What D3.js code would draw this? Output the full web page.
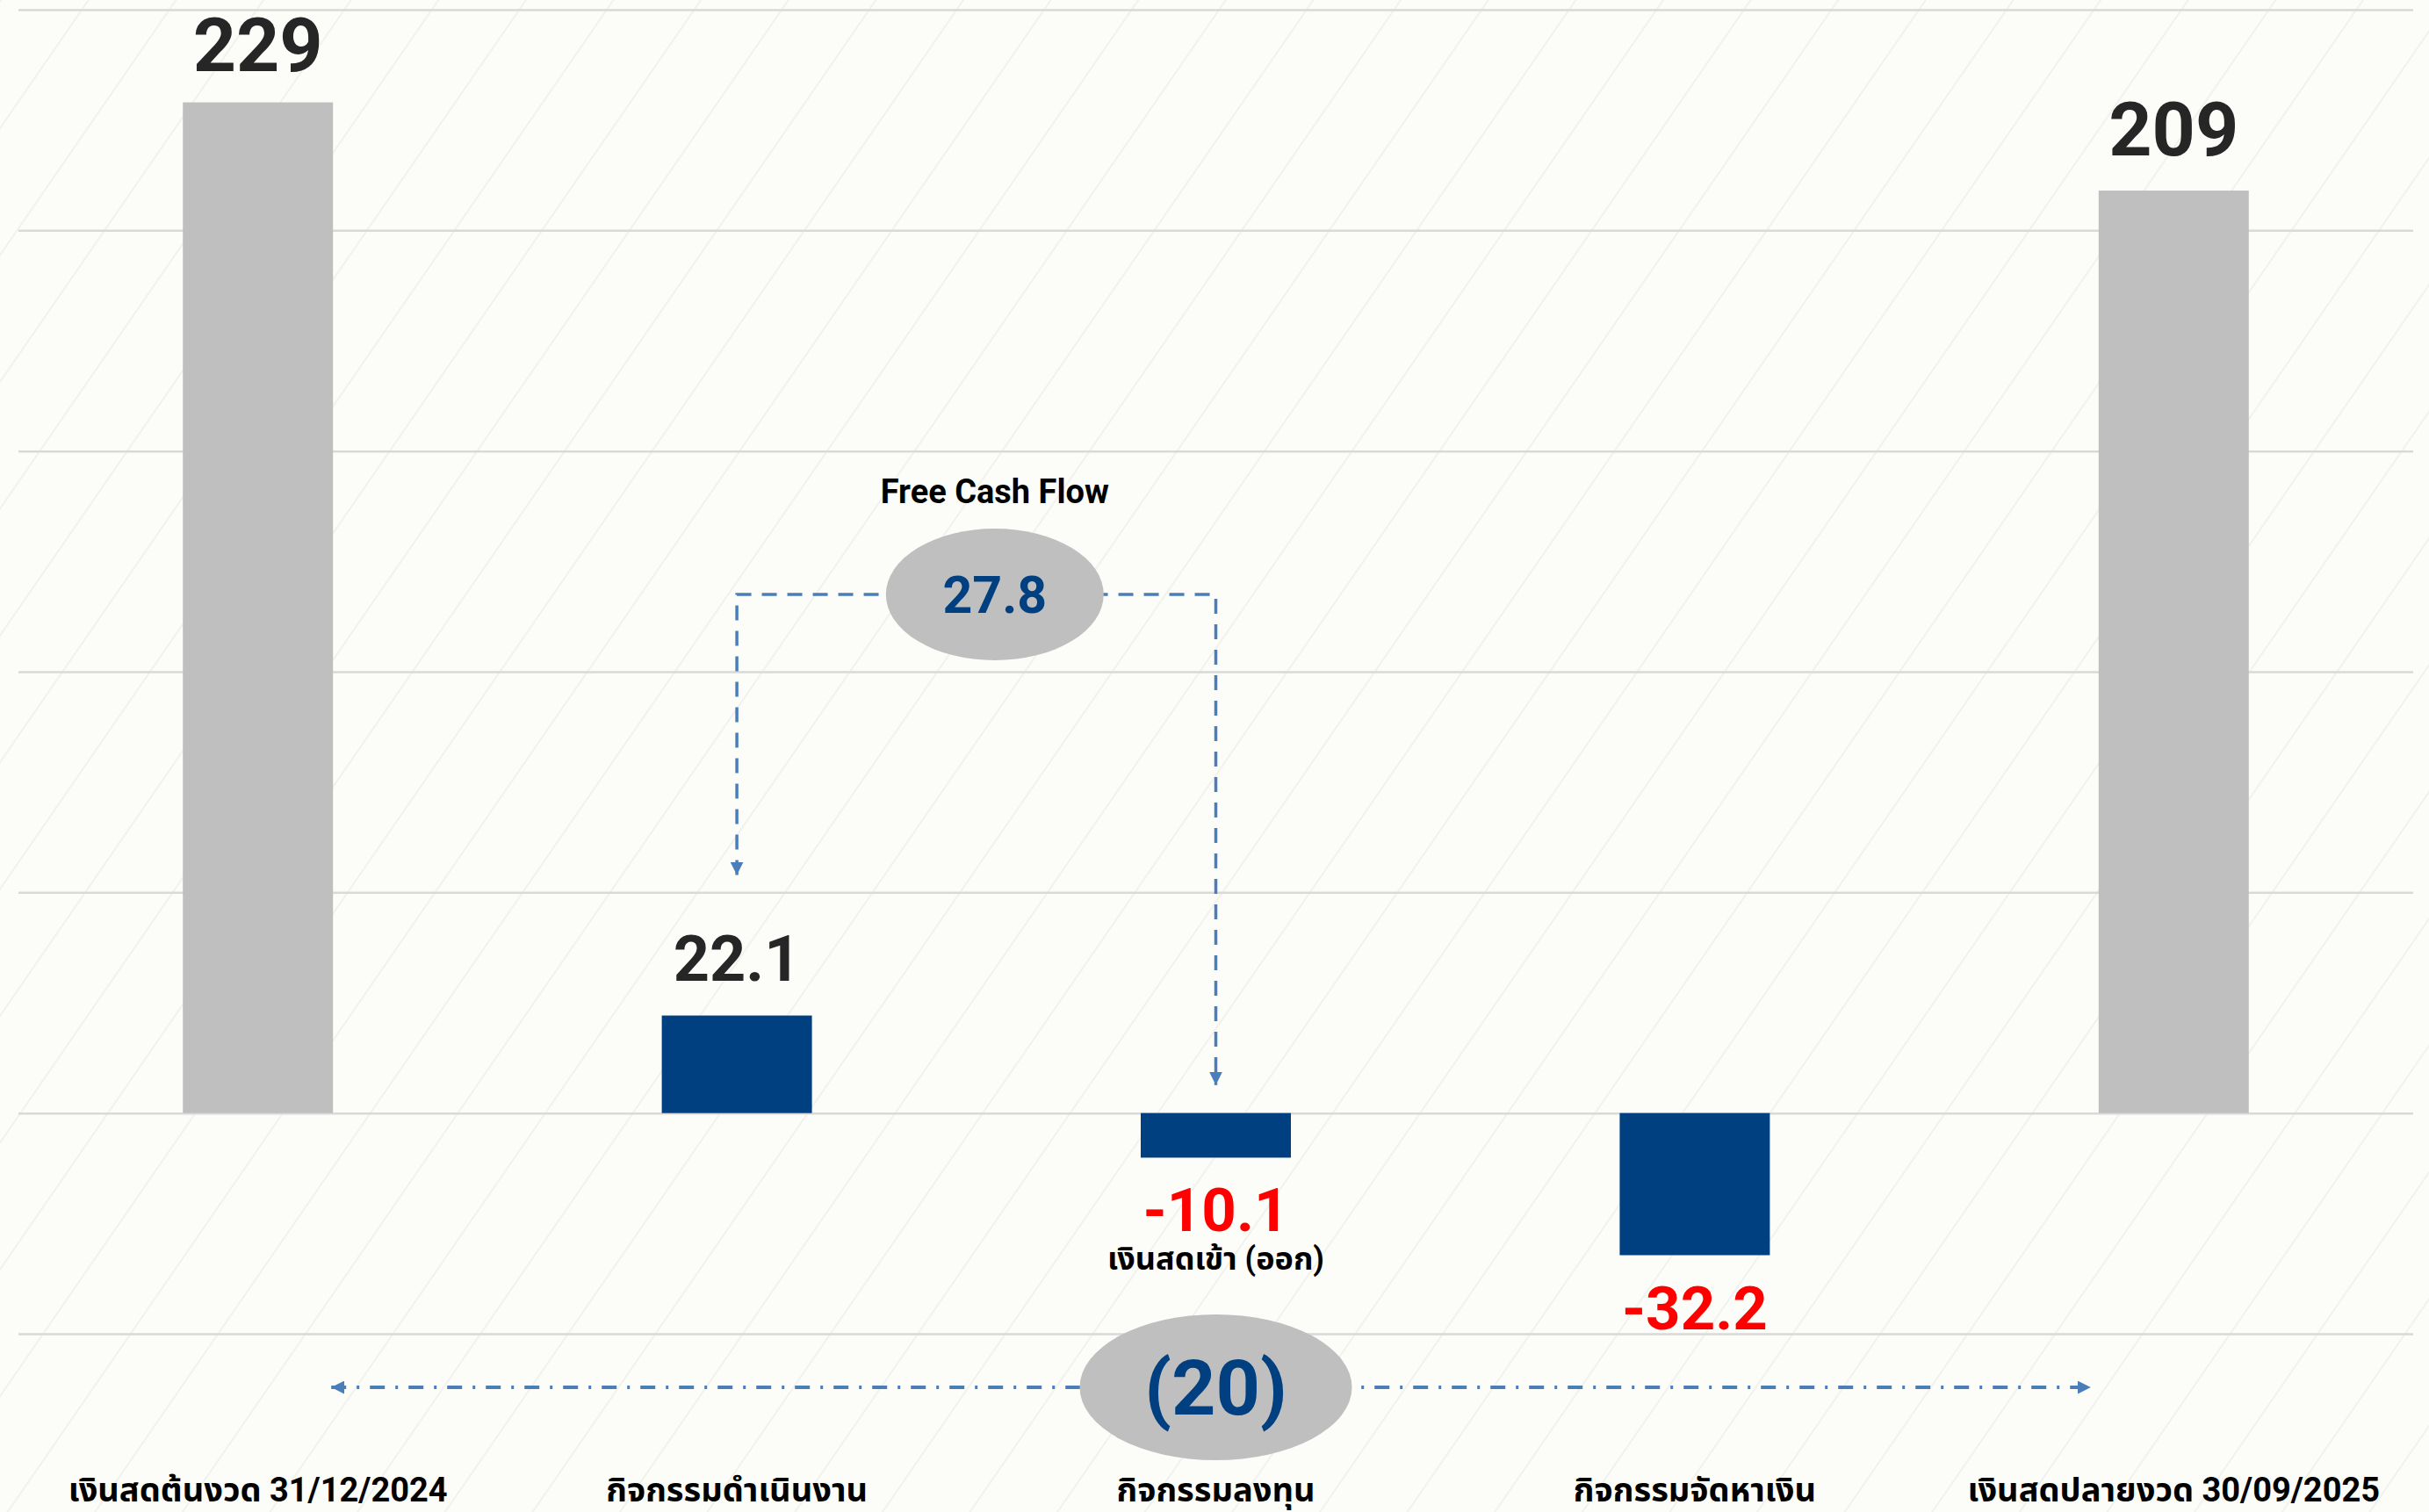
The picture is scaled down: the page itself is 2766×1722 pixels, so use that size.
<!DOCTYPE html>
<html>
<head>
<meta charset="utf-8">
<script src="https://cdn.jsdelivr.net/npm/d3@7/dist/d3.min.js"></script>
<style>
  html, body { margin: 0; padding: 0; background: #fcfcf8; }
  svg { display: block; }
  text { font-family: Roboto, "Noto Sans Thai", "Noto Sans", sans-serif; font-weight: 700; }
</style>
</head>
<body>
<div id="chart"></div>
<script>
// Cash flow bars, million baht
var categories = ['เงินสดต้นงวด 31/12/2024', 'กิจกรรมดำเนินงาน', 'กิจกรรมลงทุน', 'กิจกรรมจัดหาเงิน', 'เงินสดปลายงวด 30/09/2025'];
var values = [229, 22.1, -10.1, -32.2, 209];
var valueLabels = ['229', '22.1', '-10.1', '-32.2', '209'];
var barKinds = ['balance', 'flow', 'flow', 'flow', 'balance'];
var yTicks = [-50, 0, 50, 100, 150, 200, 250];

// Annotations
var fcfTitle = 'Free Cash Flow';
var fcfValue = '27.8';
var fcfSpan = [categories[1], categories[2]];
var netValue = '(20)';
var netNote = 'เงินสดเข้า (ออก)';
var netSpan = [categories[0], categories[4]];

var opts = {
  width: 2766,
  height: 1722,
  plot: { left: 21, right: 2748, top: 11, bottom: 1519 },
  colors: {
    background: '#fcfcf8',
    stripe: '#f1f1ed',
    grid: '#d9d9d9',
    balance: '#bfbfbf',
    flow: '#003f80',
    text: '#262626',
    negative: '#ff0000',
    connector: '#4a7ebb',
    bubble: '#bfbfbf'
  }
};

var svg = d3.select('#chart')
  .append('svg')
    .attr('width', opts.width)
    .attr('height', opts.height);

var defs = svg.append('defs');

// Faint diagonal background stripes
defs.append('pattern')
    .attr('id', 'stripes')
    .attr('patternUnits', 'userSpaceOnUse')
    .attr('width', 82)
    .attr('height', 82)
    .attr('patternTransform', 'rotate(34.6)')
  .append('line')
    .attr('x1', 1).attr('y1', 0)
    .attr('x2', 1).attr('y2', 82)
    .attr('stroke', opts.colors.stripe)
    .attr('stroke-width', 2);

defs.append('marker')
    .attr('id', 'arrow')
    .attr('viewBox', '0 0 10 10')
    .attr('refX', 10)
    .attr('refY', 5)
    .attr('markerUnits', 'userSpaceOnUse')
    .attr('markerWidth', 15)
    .attr('markerHeight', 15)
    .attr('orient', 'auto-start-reverse')
  .append('path')
    .attr('d', 'M0,0L10,5L0,10Z')
    .attr('fill', opts.colors.connector);

svg.append('rect')
    .attr('width', opts.width)
    .attr('height', opts.height)
    .attr('fill', opts.colors.background);

svg.append('rect')
    .attr('width', opts.width)
    .attr('height', opts.height)
    .attr('fill', 'url(#stripes)');

var x = d3.scaleBand()
  .domain(categories)
  .range([opts.plot.left, opts.plot.right])
  .paddingInner(0.6865)
  .paddingOuter(0.6865 / 2);

var y = d3.scaleLinear()
  .domain([-50, 250])
  .range([opts.plot.bottom, opts.plot.top]);

var bw = x.bandwidth();
function cx(c) { return x(c) + bw / 2; }

// Gridlines
var grid = svg.append('g')
    .attr('transform', 'translate(' + opts.plot.left + ',0)')
    .call(d3.axisLeft(y)
      .tickValues(yTicks)
      .tickSize(-(opts.plot.right - opts.plot.left))
      .tickFormat(''));
grid.select('.domain').remove();
grid.selectAll('.tick line')
    .attr('stroke', opts.colors.grid)
    .attr('stroke-width', 2.5);

var data = categories.map(function(c, i) {
  return { cat: c, value: values[i], label: valueLabels[i], kind: barKinds[i] };
});

// Bars
svg.append('g').selectAll('rect')
  .data(data)
  .enter().append('rect')
    .attr('x', function(d) { return x(d.cat); })
    .attr('width', bw)
    .attr('y', function(d) { return y(Math.max(0, d.value)); })
    .attr('height', function(d) { return Math.abs(y(d.value) - y(0)); })
    .attr('fill', function(d) { return opts.colors[d.kind]; });

function labelSize(d) {
  if (d.kind === 'balance') return 86;
  return d.value >= 0 ? 72 : 69;
}

// Value labels (kept inside the top edge)
svg.append('g').selectAll('text')
  .data(data)
  .enter().append('text')
    .attr('x', function(d) { return cx(d.cat); })
    .attr('y', function(d) {
      if (d.value < 0) return y(d.value) + 84;
      return Math.max(y(d.value) - 40, labelSize(d) * 0.93 + 1);
    })
    .attr('text-anchor', 'middle')
    .attr('font-size', labelSize)
    .attr('fill', function(d) { return d.value >= 0 ? opts.colors.text : opts.colors.negative; })
    .text(function(d) { return d.label; });

// Category labels
svg.append('g').selectAll('text')
  .data(categories)
  .enter().append('text')
    .attr('x', function(d) { return cx(d); })
    .attr('y', 1710)
    .attr('text-anchor', 'middle')
    .attr('font-size', 38)
    .attr('fill', '#000')
    .text(function(d) { return d; });

// Free cash flow connector
var fcfLevel = y(117.5);
var fcfX = (cx(fcfSpan[0]) + cx(fcfSpan[1])) / 2 + 21;
svg.append('path')
    .attr('d', 'M' + cx(fcfSpan[0]) + ',' + (y(values[1]) - 160) +
               'V' + fcfLevel + 'H' + cx(fcfSpan[1]) + 'V' + (y(0) - 32))
    .attr('fill', 'none')
    .attr('stroke', opts.colors.connector)
    .attr('stroke-width', 3.5)
    .attr('stroke-dasharray', '17,12')
    .attr('marker-start', 'url(#arrow)')
    .attr('marker-end', 'url(#arrow)');

svg.append('ellipse')
    .attr('cx', fcfX)
    .attr('cy', fcfLevel)
    .attr('rx', 124)
    .attr('ry', 75)
    .attr('fill', opts.colors.bubble);

svg.append('text')
    .attr('x', fcfX)
    .attr('y', fcfLevel)
    .attr('dy', '0.35em')
    .attr('text-anchor', 'middle')
    .attr('font-size', 59)
    .attr('fill', opts.colors.flow)
    .text(fcfValue);

svg.append('text')
    .attr('x', fcfX)
    .attr('y', fcfLevel - 104)
    .attr('text-anchor', 'middle')
    .attr('font-size', 38)
    .attr('fill', '#000')
    .text(fcfTitle);

// Net change connector
var netLevel = opts.plot.bottom + 61;
var netX = cx(categories[2]);
svg.append('path')
    .attr('d', 'M' + (x(netSpan[0]) + bw - 2) + ',' + netLevel + 'H' + (x(netSpan[1]) - 9))
    .attr('fill', 'none')
    .attr('stroke', opts.colors.connector)
    .attr('stroke-width', 4)
    .attr('stroke-dasharray', '17,12,3,12')
    .attr('marker-start', 'url(#arrow)')
    .attr('marker-end', 'url(#arrow)');

svg.append('ellipse')
    .attr('cx', netX)
    .attr('cy', netLevel)
    .attr('rx', 155)
    .attr('ry', 83)
    .attr('fill', opts.colors.bubble);

svg.append('text')
    .attr('x', netX)
    .attr('y', netLevel)
    .attr('dy', '0.35em')
    .attr('text-anchor', 'middle')
    .attr('font-size', 88)
    .attr('fill', opts.colors.flow)
    .text(netValue);

svg.append('text')
    .attr('x', netX)
    .attr('y', y(values[2]) + 128)
    .attr('text-anchor', 'middle')
    .attr('font-size', 36)
    .attr('fill', '#000')
    .text(netNote);
</script>
</body>
</html>
